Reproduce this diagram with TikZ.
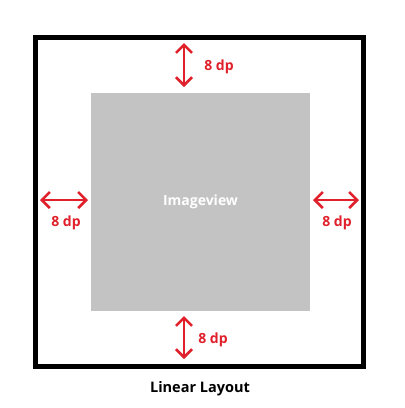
\documentclass[tikz,border=0pt]{standalone}
\usepackage{fontspec}
\setmainfont{Open Sans}
\usetikzlibrary{arrows.meta}
\definecolor{dpred}{HTML}{E0202A}
\definecolor{imggray}{HTML}{C3C3C3}
\tikzset{
  dparrow/.style={draw=dpred, line width=2.6pt, {Straight Barb[length=8pt,width=16pt,line width=2.6pt]}-{Straight Barb[length=8pt,width=16pt,line width=2.6pt]}},
  dplabel/.style={text=dpred, font=\bfseries\fontsize{14}{16}\selectfont, inner sep=0pt},
}
\begin{document}
\begin{tikzpicture}[x=1pt,y=-1pt]
\useasboundingbox[fill=white] (0,0) rectangle (405,408);
\node[draw=black, line width=5pt, minimum width=328pt, minimum height=329pt, inner sep=0pt] (layout) at (199,201.5) {};
\node[fill=imggray, minimum width=219pt, minimum height=218pt, inner sep=0pt, text=white, font=\bfseries\fontsize{14}{16}\selectfont] (img) at (200.5,202) {Imageview};
\coordinate (t1) at (184,43);
\coordinate (t2) at (184,87);
\coordinate (b1) at (184,316);
\coordinate (b2) at (184,359);
\coordinate (l1) at (40,200);
\coordinate (l2) at (88,200);
\coordinate (r1) at (313,200);
\coordinate (r2) at (359,200);
\draw[dparrow] (t1) -- (t2);
\draw[dparrow] (b1) -- (b2);
\draw[dparrow] (l1) -- (l2);
\draw[dparrow] (r1) -- (r2);
\node[dplabel] (tl) at (219,67) {8 dp};
\node[dplabel] (bl) at (213,340) {8 dp};
\node[dplabel] (ll) at (66,223) {8 dp};
\node[dplabel] (rl) at (337,223) {8 dp};
\node[font=\bfseries\fontsize{14.5}{16}\selectfont, inner sep=0pt] (cap) at (200,389) {Linear Layout};
\end{tikzpicture}
\end{document}
